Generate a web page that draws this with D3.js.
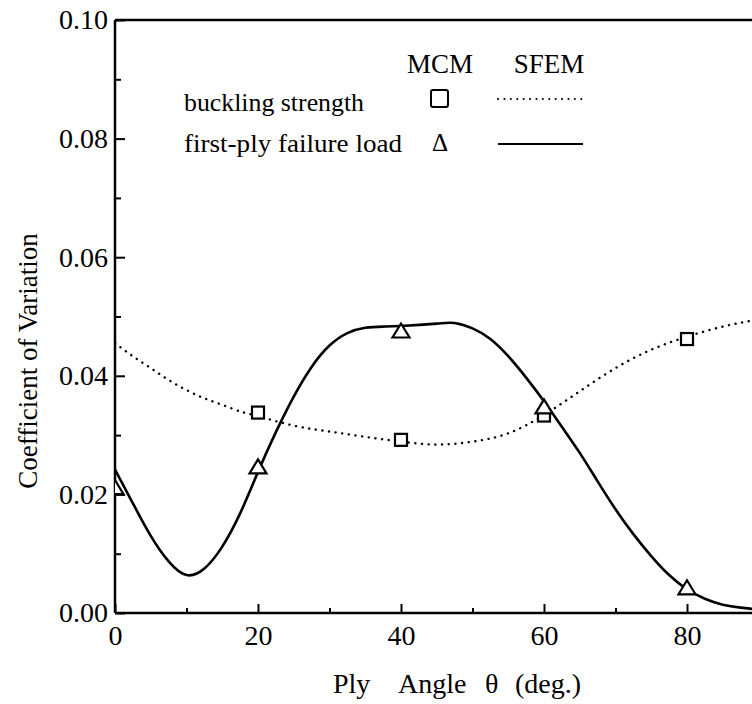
<!DOCTYPE html>
<html>
<head>
<meta charset="utf-8">
<script src="https://cdn.jsdelivr.net/npm/d3@7/dist/d3.min.js"></script>
<style>
  html, body { margin: 0; padding: 0; background: #fff; }
  svg { display: block; }
  text { font-family: "Liberation Serif", "Times New Roman", serif; fill: #000; }
</style>
</head>
<body>
<script>
// ---- data ----
const sfemAngleSolid = [0, 2.5, 5, 7.5, 10, 12.5, 15, 17.5, 20, 22.5, 25, 27.5, 30, 32.5, 35, 37.5, 40, 45, 47.5, 50, 52.5, 55, 57.5, 60, 62.5, 65, 67.5, 70, 72.5, 75, 77.5, 80, 82.5, 85, 87.5, 90];
const sfemFirstPly = [0.0242, 0.0185, 0.0130, 0.0087, 0.0064, 0.0075, 0.0112, 0.0168, 0.0238, 0.0305, 0.0365, 0.0415, 0.0451, 0.0472, 0.0481, 0.0483, 0.0484, 0.0488, 0.0489, 0.0480, 0.0462, 0.0433, 0.0397, 0.0357, 0.0314, 0.0270, 0.0222, 0.0175, 0.0133, 0.0096, 0.0064, 0.0040, 0.0024, 0.0014, 0.0009, 0.0006];
const sfemAngleDotted = [0, 2.5, 5, 7.5, 10, 12.5, 15, 17.5, 20, 25, 30, 35, 40, 45, 50, 55, 60, 65, 70, 75, 80, 85, 90];
const sfemBuckling = [0.0455, 0.0433, 0.0413, 0.0393, 0.0376, 0.0362, 0.0351, 0.0340, 0.0332, 0.0316, 0.0306, 0.0297, 0.0289, 0.0284, 0.0289, 0.0303, 0.0334, 0.0374, 0.0413, 0.0444, 0.0466, 0.0483, 0.0495];
const mcmAngleSquare = [20, 40, 60, 80];
const mcmBuckling = [0.0338, 0.0292, 0.0333, 0.0462];
const mcmAngleTri = [0, 20, 40, 60, 80];
const mcmFirstPly = [0.0210, 0.0245, 0.0474, 0.0346, 0.0041];
const xTicks = [0, 20, 40, 60, 80];
const yTicks = [0.00, 0.02, 0.04, 0.06, 0.08, 0.10];
const xMinor = [10, 30, 50, 70, 90];
const yMinor = [0.01, 0.03, 0.05, 0.07, 0.09];
const legendRows = ["buckling strength", "first-ply failure load"];
const legendHeads = ["MCM", "SFEM"];

(function () {
const W = 752, H = 704;
const pLeft = 115, pRight = 758.5, pTop = 20, pBottom = 613;

const svg = d3.select("body").append("svg").attr("width", W).attr("height", H);

const x = d3.scaleLinear().domain([0, 90]).range([pLeft, pRight]);
const y = d3.scaleLinear().domain([0, 0.10]).range([pBottom, pTop]);

svg.append("defs").append("clipPath").attr("id", "plotclip")
  .append("rect").attr("x", pLeft).attr("y", pTop).attr("width", pRight - pLeft).attr("height", pBottom - pTop);

const axisStyle = g => {
  g.select(".domain").remove();
  g.selectAll("line").attr("stroke", "#000").attr("stroke-width", 2);
  g.selectAll("text").style("font-size", "28px").attr("fill", "#000")
   .style("font-family", '"Liberation Serif", "Times New Roman", serif');
};

svg.append("g").attr("transform", `translate(0,${pBottom})`)
  .call(d3.axisBottom(x).tickValues(xTicks).tickFormat(d3.format("d")).tickSizeInner(-9).tickSizeOuter(0).tickPadding(12))
  .call(axisStyle);
svg.append("g").attr("transform", `translate(0,${pBottom})`)
  .call(d3.axisBottom(x).tickValues(xMinor).tickFormat("").tickSizeInner(-5).tickSizeOuter(0))
  .call(axisStyle);

svg.append("g").attr("transform", `translate(${pLeft},0)`)
  .call(d3.axisLeft(y).tickValues(yTicks).tickFormat(d3.format(".2f")).tickSizeInner(-10).tickSizeOuter(0).tickPadding(7))
  .call(axisStyle);
svg.append("g").attr("transform", `translate(${pLeft},0)`)
  .call(d3.axisLeft(y).tickValues(yMinor).tickFormat("").tickSizeInner(-6).tickSizeOuter(0))
  .call(axisStyle);

svg.append("line").attr("x1", pLeft).attr("x2", W).attr("y1", pBottom).attr("y2", pBottom).attr("stroke", "#000").attr("stroke-width", 2.5);
svg.append("line").attr("x1", pLeft).attr("x2", pLeft).attr("y1", pTop).attr("y2", pBottom).attr("stroke", "#000").attr("stroke-width", 2.5);
svg.append("line").attr("x1", pLeft).attr("x2", W).attr("y1", pTop).attr("y2", pTop).attr("stroke", "#000").attr("stroke-width", 2.5);

const plot = svg.append("g").attr("clip-path", "url(#plotclip)");
const line = d3.line().curve(d3.curveNatural);

plot.append("path")
  .attr("d", line(sfemAngleDotted.map((a, i) => [x(a), y(sfemBuckling[i])])))
  .attr("fill", "none").attr("stroke", "#000").attr("stroke-width", 2.4)
  .attr("stroke-linecap", "round").attr("stroke-dasharray", "0.1,6.6");

plot.append("path")
  .attr("d", line(sfemAngleSolid.map((a, i) => [x(a), y(sfemFirstPly[i])])))
  .attr("fill", "none").attr("stroke", "#000").attr("stroke-width", 2.6);

const sq = 12;
plot.selectAll("rect.sq").data(mcmAngleSquare).join("rect").attr("class", "sq")
  .attr("x", d => x(d) - sq / 2).attr("y", (d, i) => y(mcmBuckling[i]) - sq / 2)
  .attr("width", sq).attr("height", sq)
  .attr("fill", "#fff").attr("stroke", "#000").attr("stroke-width", 2.2);

const triW = 17, triH = 14;
plot.selectAll("path.tri").data(mcmAngleTri).join("path").attr("class", "tri")
  .attr("d", (d, i) => {
    const cx = x(d), cy = y(mcmFirstPly[i]);
    return `M${cx},${cy - triH * 0.6}L${cx + triW / 2},${cy + triH * 0.4}L${cx - triW / 2},${cy + triH * 0.4}Z`;
  })
  .attr("fill", "#fff").attr("stroke", "#000").attr("stroke-width", 2.2).attr("stroke-linejoin", "miter");

const lg = svg.append("g");
lg.append("text").attr("x", 440).attr("y", 73).attr("text-anchor", "middle").style("font-size", "27px").text(legendHeads[0]);
lg.append("text").attr("x", 549).attr("y", 73).attr("text-anchor", "middle").style("font-size", "27px").text(legendHeads[1]);
lg.append("text").attr("x", 184).attr("y", 111).style("font-size", "25px")
  .attr("textLength", 180).attr("lengthAdjust", "spacingAndGlyphs").text(legendRows[0]);
lg.append("text").attr("x", 184).attr("y", 152).style("font-size", "25px")
  .attr("textLength", 218).attr("lengthAdjust", "spacingAndGlyphs").text(legendRows[1]);
lg.append("rect").attr("x", 431).attr("y", 90).attr("width", 17).attr("height", 17).attr("rx", 2)
  .attr("fill", "none").attr("stroke", "#000").attr("stroke-width", 2);
lg.append("text").attr("x", 440).attr("y", 151).attr("text-anchor", "middle").style("font-size", "25px").text("\u0394");
lg.append("line").attr("x1", 498).attr("x2", 587).attr("y1", 99).attr("y2", 99)
  .attr("stroke", "#000").attr("stroke-width", 2).attr("stroke-linecap", "round").attr("stroke-dasharray", "0.1,6.3");
lg.append("line").attr("x1", 498).attr("x2", 583).attr("y1", 144).attr("y2", 144)
  .attr("stroke", "#000").attr("stroke-width", 2.2);

const xt = svg.append("text").attr("y", 693).style("font-size", "28px");
xt.append("tspan").attr("x", 333).text("Ply");
xt.append("tspan").attr("x", 398).text("Angle");
xt.append("tspan").attr("x", 485).text("\u03b8");
xt.append("tspan").attr("x", 515).text("(deg.)");

svg.append("text").attr("transform", "translate(37,361) rotate(-90)").attr("text-anchor", "middle")
  .style("font-size", "27px").text("Coefficient of Variation");
})();
</script>
</body>
</html>
